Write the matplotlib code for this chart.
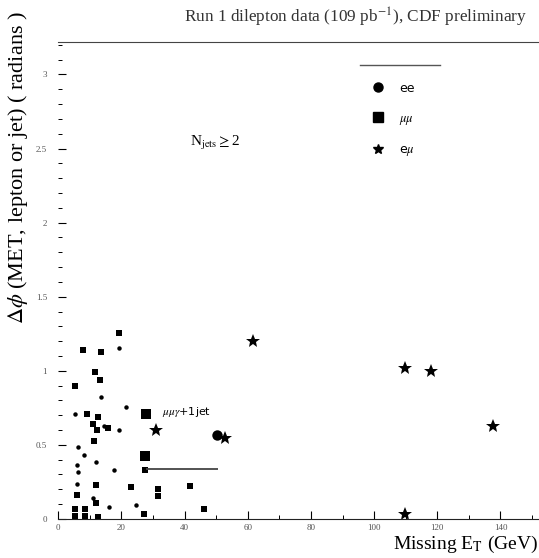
"""
Run 1 dilepton data: delta phi vs missing Et scatter (CDF preliminary)
"""
import matplotlib
matplotlib.use('Agg')
import matplotlib.pyplot as plt
from matplotlib.lines import Line2D

plt.rcParams['font.family'] = ['Liberation Serif', 'DejaVu Serif']
plt.rcParams['mathtext.fontset'] = 'stix'

# large markers - candidate events
ee_x = [50.2]
ee_y = [0.567]
mumu_x = [27.9, 27.5]
mumu_y = [0.71, 0.425]
emu_x = [31.0, 52.8, 61.6, 109.8, 118.1, 137.5, 109.8]
emu_y = [0.60, 0.545, 1.20, 1.02, 1.00, 0.63, 0.03]

# small markers
small_sq_x = [19.4, 7.7, 13.6, 11.6, 13.3, 5.4, 9.0, 12.6, 10.9, 15.9, 12.3,
              11.4, 27.6, 12.1, 22.9, 6.1, 12.0, 5.2, 5.2, 8.5, 8.5, 12.7,
              27.3, 31.7, 31.7, 41.8, 46.0]
small_sq_y = [1.257, 1.14, 1.13, 0.99, 0.935, 0.90, 0.71, 0.69, 0.64, 0.615,
              0.60, 0.525, 0.329, 0.228, 0.216, 0.16, 0.108, 0.068, 0.02,
              0.068, 0.02, 0.01, 0.03, 0.203, 0.153, 0.225, 0.068]
small_dot_x = [19.1, 13.7, 21.4, 5.2, 14.6, 19.3, 6.2, 8.3, 12.0, 6.0, 6.3,
               17.8, 5.8, 10.9, 16.2, 24.6]
small_dot_y = [1.155, 0.82, 0.757, 0.71, 0.63, 0.60, 0.486, 0.434, 0.383,
               0.363, 0.32, 0.333, 0.239, 0.144, 0.079, 0.092]

cut_x = [27.7, 50.5]
cut_y = 0.338

xticks = [0, 20, 40, 60, 80, 100, 120, 140]
yticks = [0, 0.5, 1, 1.5, 2, 2.5, 3]

fig = plt.figure(figsize=(5.39, 5.58), dpi=100)
ax = fig.add_axes([0.108, 0.070, 0.892, 0.855])

ax.plot(small_sq_x, small_sq_y, 's', color='black', ms=4.3, mew=0)
ax.plot(small_dot_x, small_dot_y, 'o', color='black', ms=3.2, mew=0)
ax.plot(ee_x, ee_y, 'o', color='black', ms=7.5, mew=0)
ax.plot(mumu_x, mumu_y, 's', color='black', ms=7.5, mew=0)
ax.plot(emu_x, emu_y, '*', color='black', ms=10, mew=0)

ax.hlines(cut_y, cut_x[0], cut_x[1], color='#444444', lw=1.3)
ax.text(32.8, 0.725, r'$\mu\mu\gamma$+1jet', fontsize=8,
        family='DejaVu Sans', va='center')
ax.text(41.8, 2.54, r'N$_{\rm jets}$$\geq$2', fontsize=11, va='center')

ax.set_xlim(0, 152.2)
ax.set_ylim(0, 3.22)
ax.set_xticks(xticks)
ax.set_xticklabels([str(t) for t in xticks])
ax.set_yticks(yticks)
ax.set_yticklabels(['0', '0.5', '1', '1.5', '2', '2.5', '3'])
ax.set_xticks(range(0, 152, 10), minor=True)
ax.set_yticks([i / 10 for i in range(33)], minor=True)
ax.tick_params(direction='in', labelsize=6.5, labelcolor='#555555',
               length=6, width=0.8)
ax.tick_params(which='minor', direction='in', length=3, width=0.7)
ax.tick_params(axis='y', pad=8)
for side in ['right', 'left']:
    ax.spines[side].set_visible(False)
ax.spines['top'].set_color('#444444')
ax.spines['bottom'].set_color('#222222')

handles = [Line2D([], [], ls='', marker='o', color='black', ms=6.5),
           Line2D([], [], ls='', marker='s', color='black', ms=6.5),
           Line2D([], [], ls='', marker='*', color='black', ms=7)]
leg = ax.legend(handles, ['ee', r'$\mu\mu$', r'e$\mu$'], frameon=False,
                loc='upper left', bbox_to_anchor=(0.615, 0.94),
                prop={'family': 'DejaVu Sans', 'size': 9},
                labelspacing=1.35, handletextpad=0.7)
ax.add_line(Line2D([0.628, 0.794], [0.952, 0.952], transform=ax.transAxes,
                   color='#555555', lw=1))

fig.text(0.66, 0.968, r'Run 1 dilepton data (109 pb$^{-1}$), CDF preliminary',
         ha='center', va='center', fontsize=12.4, color='#333333')
fig.text(0.033, 0.70, r'$\Delta\phi$ (MET, lepton or jet) ( radians )',
         rotation=90, ha='center', va='center', fontsize=16)
fig.text(0.998, 0.024, r'Missing E$_{\rm T}$ (GeV)', ha='right',
         va='center', fontsize=14)

fig.savefig('out.png', dpi=100)
